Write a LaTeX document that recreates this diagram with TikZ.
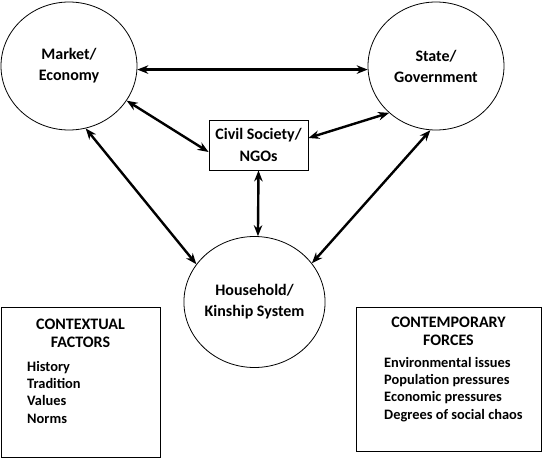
\documentclass[tikz,border=0pt]{standalone}
\usepackage{fontspec}
\setmainfont{Carlito}
\usetikzlibrary{shapes.geometric,arrows.meta}
\tikzset{
  actor/.style={draw, ellipse, line width=0.8pt, inner sep=0pt, align=center,
    font=\fontsize{16}{21}\selectfont\bfseries},
  framebox/.style={draw, rectangle, line width=0.8pt, inner sep=0pt},
  boxtext/.style={inner sep=0pt, align=center, font=\fontsize{16}{17.5}\selectfont\bfseries},
  listtext/.style={inner sep=0pt, align=left, anchor=north west, font=\fontsize{14.4}{17.3}\selectfont\bfseries},
  link/.style={line width=2.4pt, {Stealth[length=11pt,width=8.5pt]}-{Stealth[length=11pt,width=8.5pt]}}
}
\begin{document}
\begin{tikzpicture}[x=1pt,y=-1pt]
\useasboundingbox (0,0) rectangle (542,458);
\node[actor, minimum width=136pt, minimum height=128pt] (m) at (69,66) {Market/\\Economy};
\node[actor, minimum width=136pt, minimum height=128pt] (s) at (436,66) {State/\\Government};
\node[actor, minimum width=141pt, minimum height=131pt] (h) at (254.5,302) {Household/\\Kinship System};
\node[framebox, minimum width=99pt, minimum height=50pt, align=center,
  font=\fontsize{16}{22}\selectfont\bfseries] (c) at (258.5,145) {Civil Society/\\NGOs};
\node[framebox, minimum width=159pt, minimum height=150pt] (ctx) at (80.5,382) {};
\node[framebox, minimum width=185pt, minimum height=144pt] (con) at (448.5,379) {};
\node[boxtext] (ctxt) at (80.5,333.5) {CONTEXTUAL\\FACTORS};
\node[boxtext] (cont) at (448.5,331.5) {CONTEMPORARY\\FORCES};
\node[listtext] (ctxl) at (27,361) {History\\Tradition\\Values\\Norms};
\node[listtext] (conl) at (384,357) {Environmental issues\\Population pressures\\Economic pressures\\Degrees of social chaos};
\draw[link] (m.-3.4) -- (s.183.4);
\draw[link] (m.-31) -- (c.188);
\draw[link] (s.225.7) -- (c.8);
\draw[link] (m.-75) -- (h.147.4);
\draw[link] (s.-95) -- (h.34.4);
\draw[link] (c.south) -- (h.87);
\end{tikzpicture}
\end{document}
